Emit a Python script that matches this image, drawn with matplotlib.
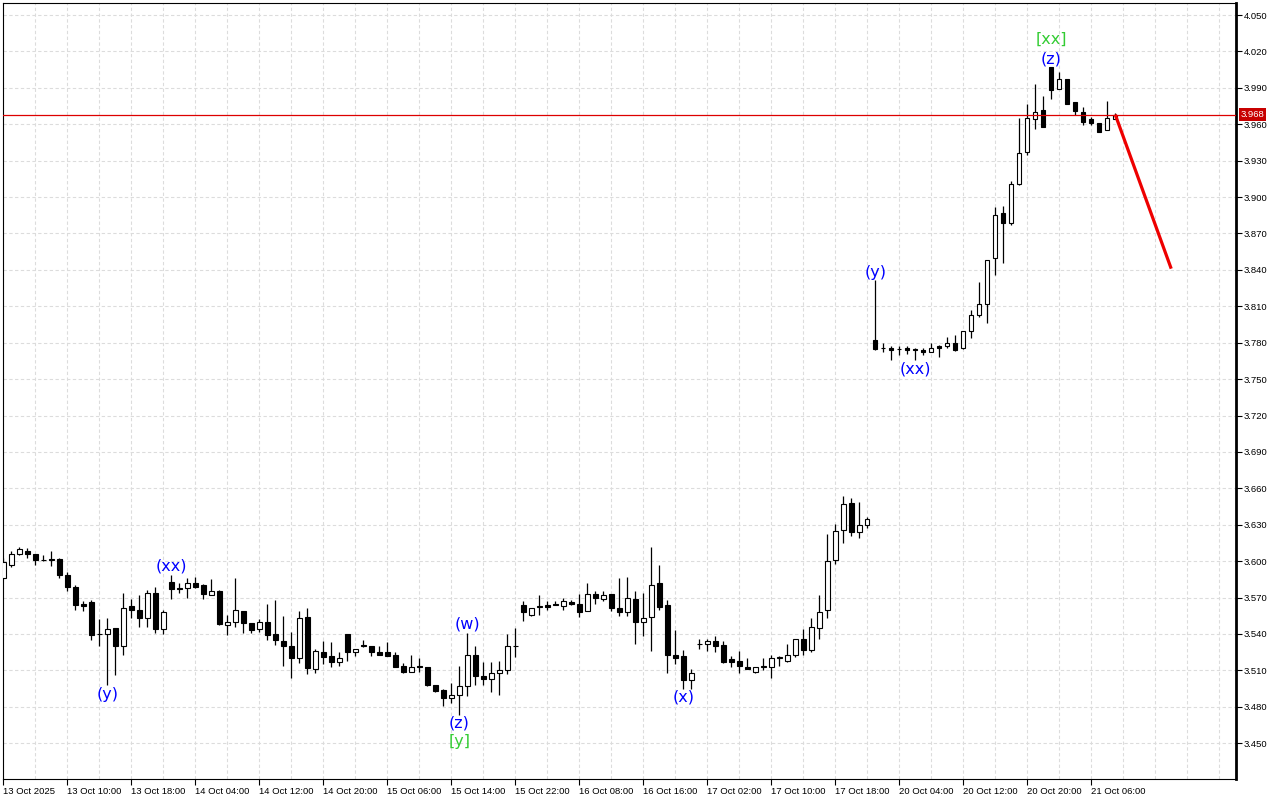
import numpy as np
import matplotlib
matplotlib.use('Agg')
import matplotlib.pyplot as plt
from matplotlib.patches import Rectangle

# Часовые свечи (O, H, L, C)

opens = [3.586, 3.597, 3.606, 3.608, 3.606, 3.601, 3.602, 3.602, 3.589, 3.579,
         3.565, 3.566, 3.540, 3.540, 3.545, 3.530, 3.563, 3.560, 3.553, 3.574,
         3.544, 3.583, 3.578, 3.578, 3.582, 3.580, 3.572, 3.575, 3.547, 3.550,
         3.559, 3.549, 3.544, 3.550, 3.540, 3.534, 3.530, 3.520, 3.554, 3.511,
         3.525, 3.522, 3.517, 3.540, 3.525, 3.531, 3.530, 3.525, 3.525, 3.523,
         3.514, 3.509, 3.514, 3.513, 3.498, 3.494, 3.487, 3.490, 3.497, 3.523,
         3.505, 3.503, 3.508, 3.510, 3.530, 3.564, 3.556, 3.562, 3.564, 3.565,
         3.563, 3.566, 3.565, 3.559, 3.573, 3.569, 3.573, 3.561, 3.558, 3.569,
         3.550, 3.554, 3.582, 3.564, 3.523, 3.522, 3.502, 3.532, 3.532, 3.534,
         3.531, 3.519, 3.518, 3.513, 3.509, 3.513, 3.513, 3.520, 3.518, 3.523,
         3.536, 3.527, 3.545, 3.560, 3.601, 3.626, 3.648, 3.624, 3.630, 3.782,
         3.776, 3.776, 3.775, 3.776, 3.775, 3.774, 3.772, 3.777, 3.777, 3.780,
         3.776, 3.790, 3.803, 3.812, 3.850, 3.887, 3.879, 3.911, 3.937, 3.964,
         3.972, 4.007, 3.989, 3.997, 3.978, 3.970, 3.964, 3.961, 3.955, 3.964]
highs = [3.603, 3.608, 3.612, 3.611, 3.606, 3.605, 3.608, 3.603, 3.591, 3.580,
         3.567, 3.568, 3.552, 3.553, 3.545, 3.574, 3.569, 3.572, 3.576, 3.579,
         3.560, 3.589, 3.582, 3.586, 3.587, 3.581, 3.585, 3.576, 3.556, 3.586,
         3.559, 3.549, 3.552, 3.565, 3.568, 3.555, 3.542, 3.559, 3.561, 3.528,
         3.534, 3.533, 3.525, 3.540, 3.528, 3.535, 3.530, 3.530, 3.533, 3.525,
         3.516, 3.523, 3.520, 3.513, 3.498, 3.495, 3.500, 3.514, 3.541, 3.530,
         3.517, 3.517, 3.518, 3.540, 3.545, 3.567, 3.561, 3.572, 3.567, 3.567,
         3.570, 3.568, 3.573, 3.582, 3.575, 3.575, 3.573, 3.586, 3.587, 3.575,
         3.574, 3.612, 3.597, 3.568, 3.543, 3.527, 3.511, 3.536, 3.536, 3.538,
         3.534, 3.522, 3.526, 3.520, 3.513, 3.520, 3.523, 3.522, 3.532, 3.536,
         3.544, 3.553, 3.572, 3.622, 3.631, 3.654, 3.652, 3.649, 3.636, 3.832,
         3.780, 3.777, 3.777, 3.777, 3.776, 3.776, 3.780, 3.778, 3.785, 3.786,
         3.790, 3.807, 3.830, 3.848, 3.892, 3.893, 3.913, 3.965, 3.977, 3.993,
         3.983, 4.007, 4.003, 3.997, 3.978, 3.974, 3.966, 3.961, 3.979, 3.969]
lows = [3.585, 3.595, 3.605, 3.603, 3.597, 3.600, 3.596, 3.586, 3.575, 3.560,
        3.559, 3.535, 3.530, 3.498, 3.506, 3.523, 3.553, 3.546, 3.546, 3.541,
        3.540, 3.569, 3.574, 3.570, 3.578, 3.569, 3.572, 3.547, 3.539, 3.546,
        3.541, 3.541, 3.542, 3.535, 3.531, 3.514, 3.504, 3.516, 3.507, 3.508,
        3.515, 3.513, 3.514, 3.518, 3.522, 3.529, 3.522, 3.523, 3.522, 3.513,
        3.508, 3.509, 3.509, 3.497, 3.492, 3.481, 3.483, 3.473, 3.489, 3.498,
        3.498, 3.492, 3.490, 3.507, 3.521, 3.551, 3.555, 3.556, 3.560, 3.564,
        3.560, 3.564, 3.554, 3.559, 3.565, 3.567, 3.559, 3.555, 3.555, 3.532,
        3.538, 3.526, 3.560, 3.508, 3.515, 3.495, 3.495, 3.528, 3.526, 3.525,
        3.516, 3.513, 3.508, 3.511, 3.508, 3.510, 3.504, 3.514, 3.517, 3.521,
        3.523, 3.525, 3.536, 3.553, 3.598, 3.615, 3.621, 3.619, 3.627, 3.774,
        3.772, 3.766, 3.770, 3.771, 3.766, 3.770, 3.772, 3.768, 3.776, 3.773,
        3.775, 3.784, 3.801, 3.796, 3.836, 3.846, 3.877, 3.910, 3.935, 3.956,
        3.958, 3.981, 3.989, 3.977, 3.968, 3.959, 3.959, 3.954, 3.955, 3.964]
closes = [3.599, 3.606, 3.610, 3.606, 3.601, 3.601, 3.601, 3.589, 3.579, 3.564,
          3.563, 3.539, 3.540, 3.544, 3.530, 3.561, 3.560, 3.553, 3.574, 3.544,
          3.558, 3.577, 3.577, 3.582, 3.579, 3.573, 3.575, 3.548, 3.550, 3.560,
          3.549, 3.543, 3.550, 3.539, 3.535, 3.530, 3.520, 3.553, 3.512, 3.526,
          3.521, 3.517, 3.520, 3.525, 3.528, 3.530, 3.525, 3.523, 3.522, 3.513,
          3.509, 3.513, 3.513, 3.498, 3.493, 3.487, 3.490, 3.497, 3.523, 3.505,
          3.503, 3.508, 3.510, 3.530, 3.530, 3.558, 3.561, 3.563, 3.562, 3.564,
          3.567, 3.565, 3.558, 3.573, 3.570, 3.572, 3.561, 3.558, 3.570, 3.550,
          3.553, 3.580, 3.562, 3.523, 3.520, 3.502, 3.508, 3.532, 3.534, 3.530,
          3.517, 3.517, 3.514, 3.511, 3.513, 3.514, 3.520, 3.521, 3.523, 3.536,
          3.527, 3.546, 3.558, 3.600, 3.625, 3.647, 3.624, 3.630, 3.635, 3.775,
          3.776, 3.774, 3.775, 3.774, 3.774, 3.772, 3.776, 3.776, 3.780, 3.774,
          3.790, 3.803, 3.812, 3.848, 3.885, 3.879, 3.911, 3.936, 3.965, 3.970,
          3.958, 3.988, 3.997, 3.977, 3.971, 3.962, 3.961, 3.954, 3.965, 3.968]

time_labels = ['13 Oct 2025', '13 Oct 10:00', '13 Oct 18:00', '14 Oct 04:00',
               '14 Oct 12:00', '14 Oct 20:00', '15 Oct 06:00', '15 Oct 14:00',
               '15 Oct 22:00', '16 Oct 08:00', '16 Oct 16:00', '17 Oct 02:00',
               '17 Oct 10:00', '17 Oct 18:00', '20 Oct 04:00', '20 Oct 12:00',
               '20 Oct 20:00', '21 Oct 06:00']

# Разметка волн
wave_text = ['(y)', '(xx)', '(w)', '(z)', '[y]', '(x)', '(y)', '(xx)', '(z)', '[xx]']
wave_bar = [13, 21, 58, 57, 57, 85, 109, 114, 131, 131]
wave_price = [3.490, 3.596, 3.548, 3.467, 3.451, 3.488, 3.838, 3.758, 4.014, 4.030]
wave_green = [False, False, False, False, True, False, False, False, False, True]

last_price = 3.968
forecast_bars = [139, 146]
forecast_prices = [3.968, 3.841]

scale_font = 'Liberation Sans'
scale_size = 6.8

fig = plt.figure(figsize=(12.8, 8), dpi=100)
ax = fig.add_axes([3 / 1280, 21 / 800, 1233 / 1280, 776 / 800])

n = len(opens)
x = np.arange(n)

# Сетка
yticks = np.arange(3.450, 4.0501, 0.03)
for gx in range(0, 156, 4):
    ax.axvline(gx, color='#dcdcdc', lw=0.8, dashes=(3, 2.2), zorder=1)
for gy in yticks:
    ax.axhline(gy, color='#dcdcdc', lw=0.8, dashes=(3, 2.2), zorder=1)

# Свечи
ax.vlines(x, lows, highs, color='black', lw=0.9, zorder=3)
for i in range(n):
    o, c = opens[i], closes[i]
    bull = c >= o
    ax.add_patch(Rectangle((i - 0.28, min(o, c)), 0.56, abs(c - o),
                           facecolor='white' if bull else 'black',
                           edgecolor='black', lw=0.8, zorder=4))

# Текущая цена и прогноз
ax.axhline(last_price, color='#dd0000', lw=0.9, zorder=5)
ax.plot(forecast_bars, forecast_prices, color='#ee0000', lw=2.3,
        solid_capstyle='butt', zorder=6)

# Подписи волн
for t, b, p, g in zip(wave_text, wave_bar, wave_price, wave_green):
    ax.text(b, p, t, color='#33cc33' if g else '#0000ff', fontsize=11.5,
            ha='center', va='center', zorder=7)

ax.set_xlim(-0.05, 154.1)
ax.set_ylim(3.4205, 4.0599)

ax.yaxis.tick_right()
ax.set_yticks(yticks)
ax.set_yticklabels(['{:.3f}'.format(v) for v in yticks], family=scale_font, fontsize=scale_size)
ax.set_xticks(range(0, 8 * len(time_labels), 8))
ax.set_xticklabels(time_labels, family=scale_font, fontsize=scale_size, ha='left')
ax.tick_params(axis='y', length=4, width=0.8, pad=1.5, colors='black')
ax.tick_params(axis='x', length=4.5, width=0.8, pad=1, colors='black')

for s in ax.spines.values():
    s.set_color('black')
    s.set_linewidth(0.8)
ax.spines['right'].set_linewidth(2)

# Метка цены на шкале
ax.text(1.0035, last_price, '{:.3f}'.format(last_price), transform=ax.get_yaxis_transform(),
        color='white', family=scale_font, fontsize=scale_size, ha='left', va='center', zorder=8,
        bbox=dict(facecolor='#c80000', edgecolor='none', pad=1.2), clip_on=False)

fig.savefig('out.png', dpi=100)
